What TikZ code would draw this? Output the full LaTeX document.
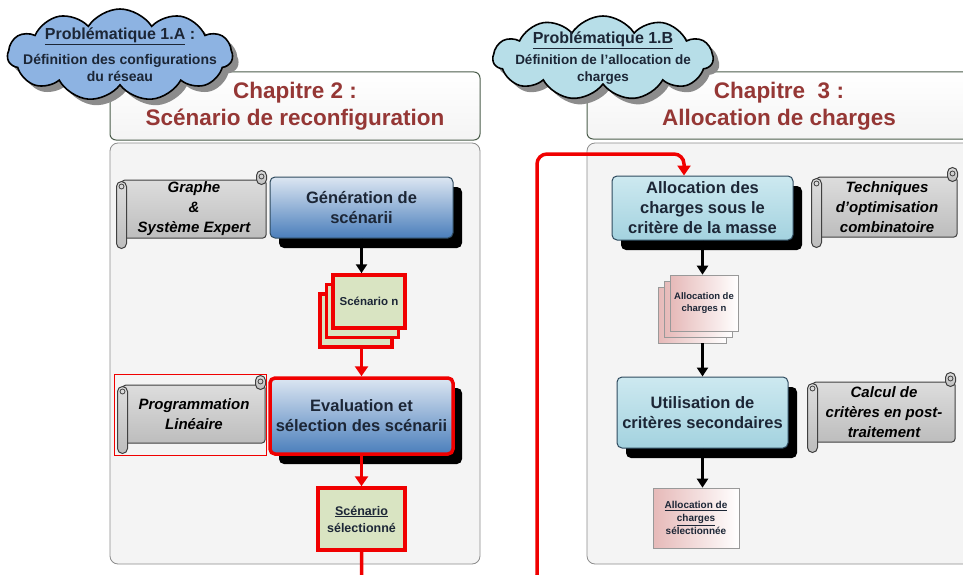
\documentclass[tikz,border=0pt]{standalone}
\usepackage{fontspec}
\setmainfont{Liberation Sans}
\usetikzlibrary{positioning,calc,arrows.meta,shapes.symbols,shadows}
\definecolor{FLOWchap}{HTML}{953735}
\definecolor{FLOWink}{HTML}{1C2636}
\definecolor{FLOWred}{HTML}{F00000}
\definecolor{FLOWpanel}{HTML}{F4F4F4}
\definecolor{FLOWpanelline}{HTML}{8C8C8C}
\definecolor{FLOWheadline}{HTML}{4B5D4B}
\definecolor{FLOWboxline}{HTML}{2E4A5E}
\definecolor{FLOWblueA}{HTML}{DCE6F2}
\definecolor{FLOWblueB}{HTML}{4A7EBB}
\definecolor{FLOWcyanA}{HTML}{CDE9F0}
\definecolor{FLOWcyanB}{HTML}{A3D2DF}
\definecolor{FLOWolive}{HTML}{D9E4C2}
\definecolor{FLOWpink}{HTML}{E6B9B8}
\definecolor{FLOWcloudA}{HTML}{8DB3E2}
\definecolor{FLOWcloudB}{HTML}{B7DEE8}
\definecolor{FLOWscrollA}{HTML}{DDDDDD}
\definecolor{FLOWscrollB}{HTML}{BDBDBD}
\definecolor{FLOWscrollline}{HTML}{404040}

\begin{document}
\begin{tikzpicture}[x=1pt, y=-1pt,
  panel/.style={draw=FLOWpanelline, fill=FLOWpanel, line width=0.8pt, rounded corners=8pt},
  chaphead/.style={draw=FLOWheadline, line width=1pt, rounded corners=6pt, top color=white, bottom color=FLOWpanel},
  chaptitle/.style={font=\fontsize{22.5}{27}\bfseries\selectfont, text=FLOWchap, align=center},
  probcloud/.style={cloud, cloud puffs=11, cloud puff arc=115, draw=black, line width=1.6pt,
    drop shadow={shadow xshift=6pt, shadow yshift=-6pt, fill=black!45, opacity=1}},
  cloudtext/.style={align=center, text=FLOWink, font=\fontsize{14}{17}\bfseries\selectfont},
  stepbox/.style={draw=FLOWboxline, line width=1pt, rounded corners=5pt, align=center, text=FLOWink,
    font=\fontsize{16.5}{20}\bfseries\selectfont, inner sep=0pt,
    drop shadow={shadow xshift=9pt, shadow yshift=-10pt, fill=black, opacity=1}},
  bluestep/.style={stepbox, top color=FLOWblueA, bottom color=FLOWblueB},
  cyanstep/.style={stepbox, top color=FLOWcyanA, bottom color=FLOWcyanB},
  hotframe/.style={draw=FLOWred, line width=3.5pt},
  scnbox/.style={hotframe, fill=FLOWolive, minimum width=72pt, minimum height=53pt, inner sep=0pt,
    align=center, text=FLOWink, font=\fontsize{11.5}{14}\bfseries\selectfont},
  alcbox/.style={draw=black!40, line width=0.6pt, left color=FLOWpink, right color=white, inner sep=0pt,
    align=center, text=FLOWink, font=\fontsize{9.5}{12.5}\bfseries\selectfont},
  scroll/.style={draw=FLOWscrollline, line width=1pt, rounded corners=3pt, top color=FLOWscrollA,
    bottom color=FLOWscrollB, inner sep=0pt, align=center, font=\fontsize{15}{20}\bfseries\itshape\selectfont},
  scrollroll/.style={draw=FLOWscrollline, line width=1pt, rounded corners=5pt, top color=FLOWscrollA, bottom color=FLOWscrollB},
  blackarrow/.style={line width=2.6pt, -{Triangle[width=11pt,length=9pt]}},
  redarrow/.style={draw=FLOWred, line width=3.5pt, -{Triangle[width=13pt,length=10pt]}}]
\useasboundingbox (0,0) rectangle (963,575);
\clip (0,0) rectangle (963,575);

% chapter panels
\draw[panel] (110,143) rectangle (480,564);
\draw[panel] (587,143) rectangle (985,564);
\draw[chaphead] (110,72) rectangle (480,140);
\draw[chaphead] (587,72) rectangle (985,139);
\node[chaptitle] (chap2) at (295,106) {Chapitre 2 :\\Scénario de reconfiguration};
\node[chaptitle] (chap3) at (779,106) {Chapitre~~3 :\\Allocation de charges};

% problem clouds
\node[probcloud, fill=FLOWcloudA, minimum width=225pt, minimum height=92pt,
  label={[cloudtext]center:{{\fontsize{16}{20}\selectfont\underline{Problématique 1.A} :}\\[8pt]Définition des configurations\\du réseau}}] (probA) at (120,55) {};
\node[probcloud, fill=FLOWcloudB, minimum width=220pt, minimum height=84pt,
  label={[cloudtext, font=\fontsize{13.5}{16.5}\bfseries\selectfont]center:{{\fontsize{16}{20}\selectfont\underline{Problématique 1.B}}\\[5pt]Définition de l’allocation de\\charges}}] (probB) at (603,58) {};

% chapitre 2
\node[scroll, minimum width=144pt, minimum height=58pt] (graphe) at (194,209) {Graphe\\\&\\Système Expert};
\node[bluestep, minimum width=183pt, minimum height=61pt] (gen) at (361.5,207.5) {Génération de\\scénarii};
\node[scnbox] (scn2) at (356,320.5) {};
\node[scnbox] (scn1) at (362.5,311) {};
\node[scnbox] (scn) at (369,301.5) {Scénario n};
\node[scroll, minimum width=142pt, minimum height=58pt] (prog) at (194,414) {Programmation\\Linéaire};
\node[bluestep, hotframe, minimum width=183pt, minimum height=76pt] (eval) at (361.5,416) {Evaluation et\\sélection des scénarii};
\node[scnbox, minimum width=87pt, minimum height=62pt, font=\fontsize{12.5}{17}\bfseries\selectfont] (sel) at (361.5,519) {\underline{Scénario}\\sélectionné};

% chapitre 3
\node[cyanstep, minimum width=181pt, minimum height=64pt] (masse) at (702.5,208) {Allocation des\\charges sous le\\critère de la masse};
\node[scroll, minimum width=140pt, minimum height=60pt] (tech) at (887,207) {Techniques\\d’optimisation\\combinatoire};
\node[alcbox, minimum width=68pt, minimum height=56pt] (alc2) at (692,315) {};
\node[alcbox, minimum width=68pt, minimum height=56pt] (alc1) at (698,309) {};
\node[alcbox, minimum width=68pt, minimum height=56pt] (alc) at (704,303) {Allocation de\\charges n};
\node[cyanstep, minimum width=171pt, minimum height=71pt] (util) at (702.5,412.5) {Utilisation de\\critères secondaires};
\node[scroll, minimum width=142pt, minimum height=60pt] (post) at (884,412) {Calcul de\\critères en post-\\traitement};
\node[alcbox, minimum width=86pt, minimum height=60pt, font=\fontsize{10}{13}\bfseries\selectfont] (alsel) at (696,518) {\underline{Allocation de}\\\underline{charges}\\sélectionnée};

% scroll rolls
\foreach \s in {graphe,prog,tech,post}{
  \draw[scrollroll] ($(\s.north west)+(-5,2)$) rectangle ($(\s.south west)+(5,10)$);
  \draw[scrollroll] ($(\s.north east)+(-10,-9)$) rectangle ($(\s.north east)+(0,5)$);
  \draw[FLOWscrollline, line width=0.8pt] ($(\s.north west)+(0,7)$) circle (2.5pt);
  \draw[FLOWscrollline, line width=0.8pt] ($(\s.north east)+(-5,-3)$) circle (2.5pt);
}
\draw[FLOWred, line width=0.6pt] ($(prog.north west)+(-8,-10)$) rectangle ($(prog.south east)+(1,12)$);

% connectors
\draw[blackarrow] (gen.south) -- (gen.south |- scn.north);
\draw[redarrow] (eval.north |- scn2.south) -- (eval.north);
\draw[redarrow] (eval.south) -- (sel.north);
\draw[blackarrow] (masse.south) -- (masse.south |- alc.north);
\draw[blackarrow] (util.north |- alc2.south) -- (util.north);
\draw[blackarrow] (util.south) -- (util.south |- alsel.north);
\coordinate (loopbot) at (537,585);
\coordinate (looptop) at (684,154);
\draw[redarrow, rounded corners=10pt] (sel.south) |- (loopbot) |- (looptop) -- (looptop |- masse.north);
\end{tikzpicture}
\end{document}
